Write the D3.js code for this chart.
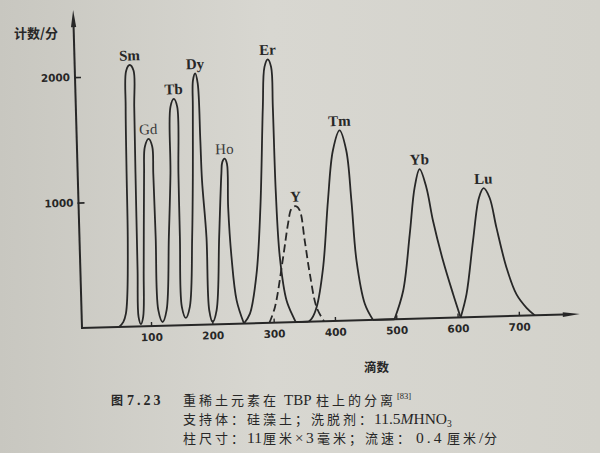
<!DOCTYPE html>
<html><head><meta charset="utf-8">
<script src="https://cdn.jsdelivr.net/npm/d3@7"></script>
<style>html,body{margin:0;padding:0;background:#d4d3cc;} svg{display:block;}</style>
</head><body>
<svg id="chart" width="600" height="453"></svg>
<script>
// ---- data (drops, counts/min) ----
const solidDrops = [48,55,59.5,62.5,66,67,68.5,71,77,83,82.5,81.5,80.5,80,83.5,
  87.5,90.5,95.5,98,104.4,110,110.5,111.5,112.5,119,
  126,133,138.5,141.5,147.4,152.5,151.5,151,151,157,
  164,171,175,178,179.5,183.4,187,188.7,189.6,194.3,195.5,200.5,
  207.5,215,221.5,223.5,227.5,231,231,234.2,240.6,251.5,
  261.7,274.3,283.6,292.1,296.6,302.3,307.4,308.4,309.3,313,322,336,
  357,362,370.6,383.1,394,404.3,416.1,426.1,432.2,437.8,449.5,462,
  497,512.5,525.8,535.9,544.8,555,564.3,578.9,593.8,605,
  615.6,628.6,640.3,648.3,657.6,667.4,682,697.1,712.8,726];
const solidCounts = [0,40,105,240,715,1220,1750,2040,2084,2040,1750,1220,450,76,18,
  75,447,1218,1430,1492,1430,1215,709,125,30,
  123,706,1211,1742,1805,1742,1209,704,146,57,
  144,701,1206,1737,1950,2002,1922,1469,1151,697,113,19,
  111,694,1199,1290,1318,1277,931,532,186,0,
  77,394,924,1720,2039,2099,2037,1717,1053,520,174,0,
  0,22,113,430,961,1358,1516,1355,955,476,128,0,
  0,225,675,1046,1191,1043,776,455,187,0,
  184,607,950,1024,947,707,386,171,62,0];
// Y (dashed)
const yttDrops = [293,302.7,318.4,327.9,334.1,341.2,347.5,354.3,361.1,370.6,382];
const yttCounts = [0,123,520,785,903,923,888,647,381,113,0];

const peakNames  = ["Sm","Gd","Tb","Dy","Ho","Er","Y","Tm","Yb","Lu"];
const peakDrops  = [77,104.4,147.4,183.4,227.5,302.3,341.2,416.1,544.8,648.3];
const peakCounts = [2084,1492,1805,2002,1318,2099,923,1516,1191,1024];

const xTickValues = [100,200,300,400,500,600,700];
const yTickValues = [1000,2000];
const yAxisTitle = "计数/分";
const xAxisTitle = "滴数";

// ---- drawing ----
const svg = d3.select("#chart");
const defs = svg.append("defs");
const g0 = defs.append("linearGradient").attr("id","bg").attr("x1","0").attr("x2","1").attr("y1","0").attr("y2","0");
g0.append("stop").attr("offset","0").attr("stop-color","#c8c7c0");
g0.append("stop").attr("offset","0.45").attr("stop-color","#d8d7d1");
g0.append("stop").attr("offset","1").attr("stop-color","#d3d2cb");
svg.append("rect").attr("width",600).attr("height",453).attr("fill","url(#bg)");

const ink = "#272727";
const xScale = d3.scaleLinear().domain([0,800]).range([7.8, 498.4]);
const yScale = d3.scaleLinear().domain([0,2000]).range([0,-251]);

const g = svg.append("g").attr("transform","translate(82,328) rotate(-1.6)");

// axes lines with arrows
g.append("line").attr("x1",0).attr("y1",1).attr("x2",0).attr("y2",-303)
  .attr("stroke",ink).attr("stroke-width",2);
g.append("path").attr("d","M0,-318 L2.6,-301 L-2.6,-301 Z").attr("fill",ink);
g.append("line").attr("x1",-1).attr("y1",0).attr("x2",482).attr("y2",0)
  .attr("stroke",ink).attr("stroke-width",2);
g.append("path").attr("d","M498,0 L481,2.4 L481,-2.4 Z").attr("fill",ink);

const xAxis = d3.axisBottom(xScale).tickValues(xTickValues).tickSizeInner(-4).tickSizeOuter(0).tickPadding(7.5).tickFormat(d3.format("d"));
const gx = g.append("g").call(xAxis);
gx.select(".domain").remove();
gx.selectAll(".tick line").attr("stroke",ink).attr("stroke-width",1.4);
gx.selectAll(".tick text").attr("fill",ink).attr("font-family","DejaVu Sans").attr("font-weight","bold").attr("font-size",10.5);

const yAxis = d3.axisLeft(yScale).tickValues(yTickValues).tickSizeInner(-6).tickSizeOuter(0).tickPadding(5).tickFormat(d3.format("d"));
const gy = g.append("g").call(yAxis);
gy.select(".domain").remove();
gy.selectAll(".tick line").attr("stroke",ink).attr("stroke-width",1.6).attr("x1",-1);
gy.selectAll(".tick text").attr("fill",ink).attr("font-family","DejaVu Sans").attr("font-weight","bold").attr("font-size",10.5);

// curves
const pts = solidDrops.map((d,i)=>[d, solidCounts[i]]);
const segs = []; let cur = [pts[0]];
for (let i=1;i<pts.length;i++){ cur.push(pts[i]); if (pts[i][1]===0 && i<pts.length-1){ segs.push(cur); cur=[pts[i]]; } }
segs.push(cur);
const line = d3.line().x(p=>xScale(p[0])).y(p=>yScale(p[1])).curve(d3.curveCatmullRom.alpha(0.5));
g.selectAll("path.trace").data(segs).join("path").attr("class","trace")
  .attr("d",line).attr("fill","none").attr("stroke",ink).attr("stroke-width",1.8)
  .attr("stroke-linejoin","round");
g.append("path").datum(yttDrops.map((d,i)=>[d,yttCounts[i]]))
  .attr("d",line).attr("fill","none").attr("stroke",ink).attr("stroke-width",1.8)
  .attr("stroke-dasharray","8,4");

// peak labels
const lightSet = new Set(["Gd","Ho"]);
g.selectAll("text.pk").data(peakNames).join("text").attr("class","pk")
  .attr("x",(d,i)=>xScale(peakDrops[i])).attr("y",(d,i)=>yScale(peakCounts[i])-4.5)
  .attr("text-anchor","middle").attr("font-family","Liberation Serif")
  .attr("font-weight",d=>lightSet.has(d)?"normal":"bold")
  .attr("font-size",15).attr("fill",d=>lightSet.has(d)?"#3a3a3a":ink).text(d=>d);

// axis titles
svg.append("text").attr("x",14).attr("y",38).attr("font-family","Noto Sans CJK SC")
  .attr("font-weight","bold").attr("font-size",13).attr("fill",ink).text(yAxisTitle);
svg.append("text").attr("x",364).attr("y",372).attr("font-family","Noto Sans CJK SC")
  .attr("font-weight","bold").attr("font-size",12.5).attr("fill",ink).text(xAxisTitle);

// caption
const cjk = "Noto Sans CJK SC", ser = "Liberation Serif";
const cap = svg.append("g").attr("fill",ink);
function seg(t, x, y, txt, fam, size, opts={}) {
  const s = t.append("tspan").attr("font-family",fam).attr("font-size",size).text(txt);
  if (x !== null) s.attr("x",x);
  if (y !== null) s.attr("y",y);
  if (opts.bold) s.attr("font-weight","bold");
  if (opts.italic) s.attr("font-style","italic");
  if (opts.ls !== undefined) s.attr("letter-spacing",opts.ls);
  return s;
}
const C = 13, CLS = 3;
const l1 = cap.append("text");
seg(l1,111,405,"图",cjk,12,{bold:true});
seg(l1,127,405,"7.23",ser,14,{bold:true,ls:3});
seg(l1,183,405,"重稀土元素在",cjk,C,{ls:CLS});
seg(l1,284,405,"TBP",ser,15);
seg(l1,316,405,"柱上的分离",cjk,C,{ls:CLS});
seg(l1,397,399,"[83]",ser,8.5);
const l2 = cap.append("text");
seg(l2,183,424,"支持体：硅藻土；洗脱剂",cjk,C,{ls:CLS});
seg(l2,null,null,"：",cjk,C,{ls:0});
seg(l2,374,424,"11.5",ser,15.5);
seg(l2,null,null,"M",ser,15.5,{italic:true});
seg(l2,null,null,"HNO",ser,15.5);
seg(l2,null,427,"3",ser,9.5);
const l3 = cap.append("text");
seg(l3,183,443,"柱尺寸：",cjk,C,{ls:CLS});
seg(l3,247,443,"11",ser,15.5);
seg(l3,263,443,"厘米",cjk,C,{ls:CLS});
seg(l3,295,443,"×",ser,15);
seg(l3,306,443,"3",ser,15.5);
seg(l3,317,443,"毫米；流速：",cjk,C,{ls:CLS});
seg(l3,416,443,"0.4",ser,15.5,{ls:3});
seg(l3,447,443,"厘米",cjk,C,{ls:CLS});
seg(l3,479,443,"/",ser,15.5);
seg(l3,484,443,"分",cjk,C);
</script>
</body></html>
